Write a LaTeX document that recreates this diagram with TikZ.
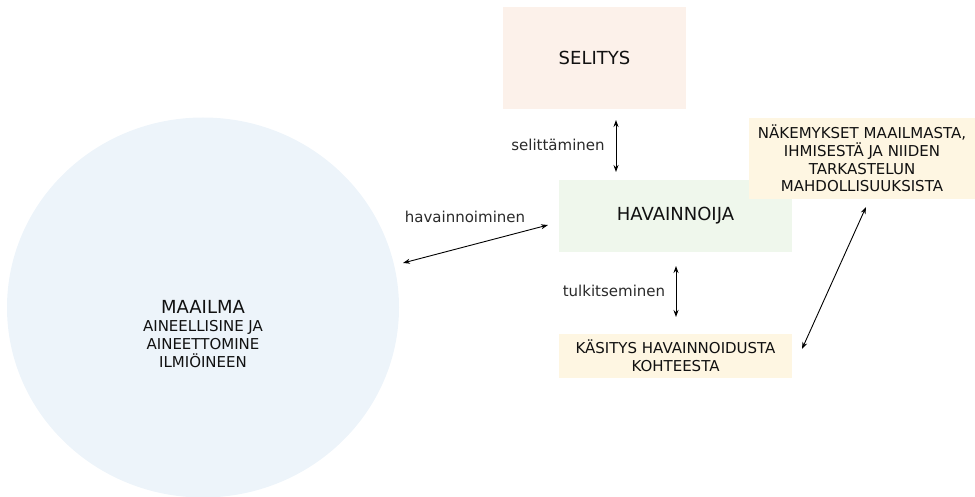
\documentclass[tikz,border=0pt]{standalone}
\usepackage{fontspec}
\setmainfont{DejaVu Sans}
\usetikzlibrary{arrows.meta,shapes.geometric}
\definecolor{selfill}{HTML}{FCF1EA}
\definecolor{havfill}{HTML}{EFF7EC}
\definecolor{yelfill}{HTML}{FEF6E2}
\definecolor{worldfill}{HTML}{EDF4FA}
\definecolor{txt}{HTML}{111111}
\definecolor{lbl}{HTML}{2A2A2A}
\tikzset{
  box/.style={rectangle, draw=none, inner sep=0pt, align=center, text=txt},
  bigtext/.style={font=\fontsize{18}{22}\selectfont},
  smalltext/.style={font=\fontsize{15}{17.7}\selectfont},
  lab/.style={inner sep=0pt, text=lbl, font=\fontsize{15}{18}\selectfont},
  conn/.style={line width=0.9pt, {Stealth[length=7pt,width=5pt]}-{Stealth[length=7pt,width=5pt]}}
}
\begin{document}
\begin{tikzpicture}[x=1pt,y=-1pt]
\useasboundingbox (0,0) rectangle (975,497);
% world
\node[ellipse, fill=worldfill, draw=none, minimum width=392pt, minimum height=380pt, inner sep=0pt] (world) at (203,307.5) {};
\node[box, smalltext] (worldtext) at (203,334) {{\fontsize{18}{19}\selectfont MAAILMA}\\AINEELLISINE JA\\AINEETTOMINE\\ILMIÖINEEN};
% boxes
\node[box, bigtext, fill=selfill, minimum width=183pt, minimum height=102pt] (selitys) at (594.5,58) {SELITYS};
\node[box, bigtext, fill=havfill, minimum width=233pt, minimum height=72pt] (hav) at (675.5,216) {HAVAINNOIJA};
\node[box, smalltext, fill=yelfill, minimum width=226pt, minimum height=81pt] (nak) at (862,158.5) {NÄKEMYKSET MAAILMASTA,\\IHMISESTÄ JA NIIDEN\\TARKASTELUN\\MAHDOLLISUUKSISTA};
\node[box, smalltext, fill=yelfill, minimum width=233pt, minimum height=44pt] (kas) at (675.5,356) {KÄSITYS HAVAINNOIDUSTA\\KOHTEESTA};
% connector end points
\coordinate (s1) at (616,120);
\coordinate (s2) at (616,172);
\coordinate (h1) at (403,263);
\coordinate (h2) at (548,225);
\coordinate (t1) at (676,266);
\coordinate (t2) at (676,317);
\coordinate (d1) at (802,349);
\coordinate (d2) at (866,207);
\draw[conn] (s1) -- (s2);
\draw[conn] (h1) -- (h2);
\draw[conn] (t1) -- (t2);
\draw[conn] (d1) -- (d2);
% labels
\node[lab] (lsel) at (558,145) {selittäminen};
\node[lab] (lhav) at (465,217) {havainnoiminen};
\node[lab] (ltul) at (614,291) {tulkitseminen};
\end{tikzpicture}
\end{document}
